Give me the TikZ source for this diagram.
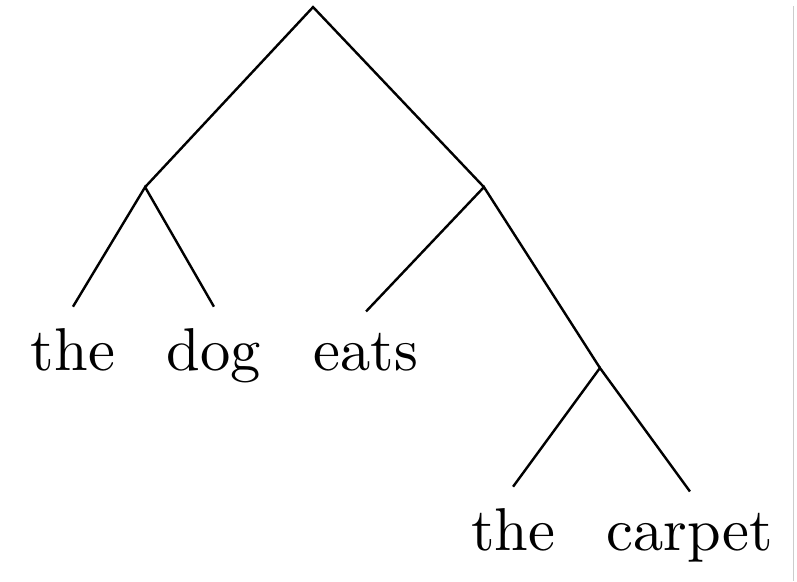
\documentclass[tikz,border=0pt]{standalone}
\usepackage{tikz}

\begin{document}
\begin{tikzpicture}[leaf/.style={anchor=base}]

\useasboundingbox (0,0) rectangle (4.631,-3.376);

% inner points of the tree
\coordinate (s) at (1.819,-0.041);
\coordinate (np) at (0.843,-1.087);
\coordinate (vp) at (2.812,-1.087);
\coordinate (obj) at (3.486,-2.138);

% words
\node [leaf] (det1) at (0.424,-2.150) {the};
\node [leaf] (noun1) at (1.243,-2.150) {dog};
\node [leaf] (verb) at (2.127,-2.150) {eats};
\node [leaf] (det2) at (2.981,-3.196) {the};
\node [leaf] (noun2) at (4.009,-3.196) {carpet};

\draw (np) -- (s) -- (vp);
\draw (det1.north) -- (np) -- (noun1.north);
\draw (verb.north) -- (vp) -- (obj);
\draw (det2.north) -- (obj) -- (noun2.north);

%\draw [color=black!30] (0,0) -- (0,-3.376);
\draw [color=black!20, line width=0.15pt] (4.613,-0.035) -- (4.613,-3.376);

\end{tikzpicture}
\end{document}
